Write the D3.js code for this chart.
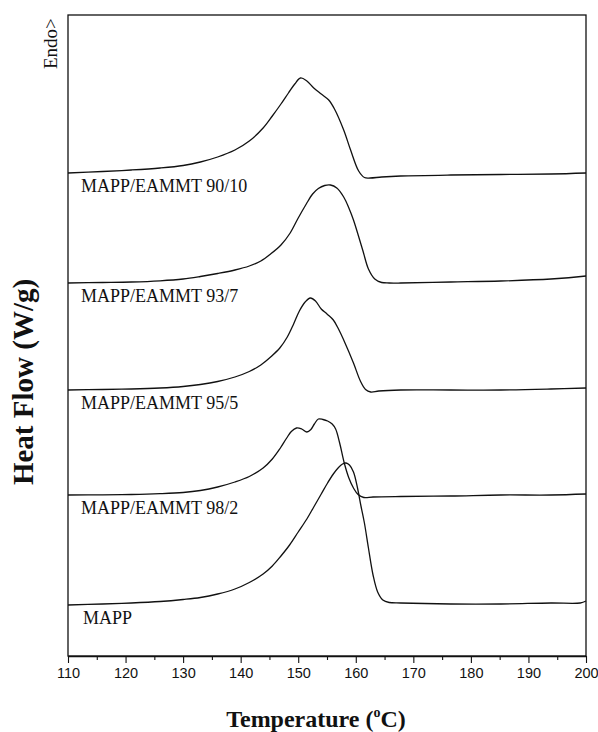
<!DOCTYPE html>
<html>
<head>
<meta charset="utf-8">
<script src="https://cdn.jsdelivr.net/npm/d3@7/dist/d3.min.js"></script>
<style>
  html, body { margin: 0; padding: 0; background: #fff; }
  svg { display: block; }
</style>
</head>
<body>
<svg id="chart" width="598" height="732"></svg>
<script>
// DSC heating scans: temperature (°C) and stacked heat-flow traces (offset, arbitrary units)
const seriesNames = ["MAPP/EAMMT 90/10", "MAPP/EAMMT 93/7", "MAPP/EAMMT 95/5", "MAPP/EAMMT 98/2", "MAPP"];

const flow9010 = [
  [110, 4.83], [116, 4.845], [121, 4.86], [126.0, 4.88], [130.0, 4.905], [133.0, 4.94], [136.0, 4.99],
  [139.0, 5.06], [141.5, 5.15], [143.9, 5.28], [145.5, 5.40], [147.0, 5.52], [148.3, 5.63],
  [149.4, 5.72], [150.4, 5.78], [151.5, 5.75], [152.7, 5.68], [154.0, 5.62], [155.3, 5.56],
  [156.3, 5.47], [157.9, 5.26], [159.1, 5.06], [160.5, 4.85], [161.5, 4.785], [162.5, 4.78],
  [164.5, 4.79], [167.8, 4.80], [176.5, 4.81], [185.2, 4.815], [193.9, 4.82], [200, 4.83]
];
const flow937 = [
  [110, 3.73], [116, 3.735], [121, 3.74], [126.0, 3.752], [130.0, 3.77], [133.0, 3.795],
  [136.0, 3.825], [139.0, 3.86], [141.5, 3.90], [143.5, 3.95], [145.2, 4.02], [147.0, 4.11],
  [148.6, 4.23], [150.0, 4.38], [151.4, 4.52], [152.5, 4.62], [153.5, 4.675], [154.6, 4.705],
  [155.6, 4.71], [156.7, 4.68], [157.9, 4.59], [158.8, 4.48], [159.6, 4.36], [161.2, 4.06],
  [162.2, 3.87], [163.3, 3.77], [164.5, 3.735], [165.8, 3.73], [167.8, 3.73], [176.5, 3.74],
  [185.2, 3.75], [193.9, 3.77], [200, 3.80]
];
const flow955 = [
  [110, 2.66], [116, 2.665], [121, 2.67], [126.0, 2.68], [130.0, 2.695], [133.0, 2.715],
  [136.0, 2.745], [139.0, 2.79], [141.5, 2.845], [143.5, 2.91], [145.2, 2.99], [146.8, 3.08],
  [148.1, 3.19], [149.2, 3.32], [150.2, 3.45], [151.2, 3.54], [152.1, 3.58], [153.0, 3.55],
  [154.0, 3.47], [155.0, 3.42], [156.1, 3.36], [157.0, 3.27], [157.9, 3.16], [159.6, 2.93],
  [160.8, 2.75], [161.7, 2.665], [162.6, 2.64], [164.0, 2.65], [167.8, 2.66], [176.5, 2.66],
  [185.2, 2.66], [193.9, 2.67], [200, 2.68]
];
const flow982 = [
  [110, 1.61], [116, 1.612], [121, 1.615], [126.0, 1.623], [130.0, 1.635], [133.0, 1.655],
  [136.0, 1.69], [139.0, 1.74], [141.5, 1.795], [143.9, 1.88], [145.5, 1.97], [146.9, 2.08],
  [148.0, 2.18], [148.8, 2.245], [149.7, 2.28], [150.6, 2.27], [151.5, 2.24], [152.2, 2.265],
  [152.8, 2.32], [153.5, 2.37], [154.3, 2.365], [155.1, 2.35], [155.9, 2.32], [156.5, 2.27],
  [157.2, 2.13], [158.0, 1.93], [158.8, 1.78], [159.6, 1.68], [160.4, 1.615], [161.4, 1.585],
  [163.0, 1.59], [167.8, 1.595], [176.5, 1.60], [185.2, 1.61], [193.9, 1.61], [200, 1.62]
];
const flowMAPP = [
  [110, 0.51], [116, 0.52], [121, 0.53], [126.0, 0.545], [130.0, 0.565], [133.0, 0.585],
  [136.0, 0.62], [139.0, 0.67], [141.5, 0.735], [143.9, 0.82], [145.5, 0.90], [147.0, 1.00],
  [148.5, 1.11], [150.0, 1.24], [151.5, 1.37], [152.7, 1.49], [154.0, 1.62], [155.1, 1.73],
  [156.1, 1.82], [157.0, 1.885], [157.7, 1.92], [158.3, 1.93], [158.9, 1.91], [159.6, 1.84],
  [160.3, 1.68], [160.9, 1.50], [161.5, 1.33], [162.2, 1.08], [163.0, 0.81], [163.8, 0.64],
  [164.7, 0.56], [165.8, 0.535], [167.8, 0.53], [176.5, 0.52], [185.2, 0.52], [193.9, 0.53],
  [199, 0.53], [200, 0.55]
];

const majorTicks = [110, 120, 130, 140, 150, 160, 170, 180, 190, 200];
const minorTicks = [115, 125, 135, 145, 155, 165, 175, 185, 195];

const allSeries = [flow9010, flow937, flow955, flow982, flowMAPP];

// ---- layout ----
const plot = { left: 68, right: 586, top: 15, bottom: 656 };
const svg = d3.select("#chart");

const x = d3.scaleLinear().domain([110, 200]).range([plot.left, plot.right]);
const y = d3.scaleLinear().domain([0, 6.41]).range([plot.bottom, plot.top]);

// frame
svg.append("rect")
  .attr("x", plot.left).attr("y", plot.top)
  .attr("width", plot.right - plot.left).attr("height", plot.bottom - plot.top)
  .attr("fill", "none").attr("stroke", "#111").attr("stroke-width", 1.3);

// x axis: labelled major ticks, unlabelled minor ticks
const axisG = svg.append("g").attr("transform", `translate(0,${plot.bottom})`);
axisG.call(d3.axisBottom(x).tickValues(majorTicks).tickSize(7).tickSizeOuter(0).tickPadding(5));
axisG.select(".domain").attr("stroke", "#111").attr("stroke-width", 1.3);
axisG.selectAll(".tick line").attr("stroke", "#111").attr("stroke-width", 1.1);
axisG.selectAll(".tick text")
  .attr("font-family", "'Liberation Sans', Arial, sans-serif")
  .attr("font-size", 14.5).attr("fill", "#111");

const minorG = svg.append("g").attr("transform", `translate(0,${plot.bottom})`);
minorG.call(d3.axisBottom(x).tickValues(minorTicks).tickSize(4).tickSizeOuter(0).tickFormat(""));
minorG.select(".domain").remove();
minorG.selectAll(".tick line").attr("stroke", "#111").attr("stroke-width", 1.1);

// traces
const line = d3.line()
  .x(d => x(d[0]))
  .y(d => y(d[1]))
  .curve(d3.curveCatmullRom.alpha(0.5));

svg.append("g").selectAll("path")
  .data(allSeries)
  .join("path")
  .attr("d", line)
  .attr("fill", "none")
  .attr("stroke", "#111")
  .attr("stroke-width", 1.3)
  .attr("stroke-linejoin", "round");

// trace labels, placed just under each trace's starting baseline
svg.append("g").selectAll("text")
  .data(allSeries)
  .join("text")
  .attr("x", (d, i) => x(110) + (i === 4 ? 15 : 13))
  .attr("y", d => y(d[0][1]) + 19)
  .attr("font-family", "'Liberation Serif', 'Times New Roman', serif")
  .attr("font-size", 18)
  .attr("fill", "#111")
  .text((d, i) => seriesNames[i]);

// axis titles
const xTitle = svg.append("text")
  .attr("x", 316).attr("y", 727)
  .attr("text-anchor", "middle")
  .attr("font-family", "'Liberation Serif', 'Times New Roman', serif")
  .attr("font-weight", "bold")
  .attr("font-size", 24)
  .attr("fill", "#111");
xTitle.append("tspan").text("Temperature (");
xTitle.append("tspan").attr("font-size", 14).attr("dy", -10).text("o");
xTitle.append("tspan").attr("dy", 10).text("C)");

svg.append("text")
  .attr("transform", "translate(33,382) rotate(-90)")
  .attr("text-anchor", "middle")
  .attr("font-family", "'Liberation Serif', 'Times New Roman', serif")
  .attr("font-weight", "bold")
  .attr("font-size", 29)
  .attr("fill", "#111")
  .text("Heat Flow (W/g)");

svg.append("text")
  .attr("transform", "translate(57,69) rotate(-90)")
  .attr("text-anchor", "start")
  .attr("font-family", "'Liberation Serif', 'Times New Roman', serif")
  .attr("font-size", 19)
  .attr("fill", "#111")
  .text("Endo>");
</script>
</body>
</html>
